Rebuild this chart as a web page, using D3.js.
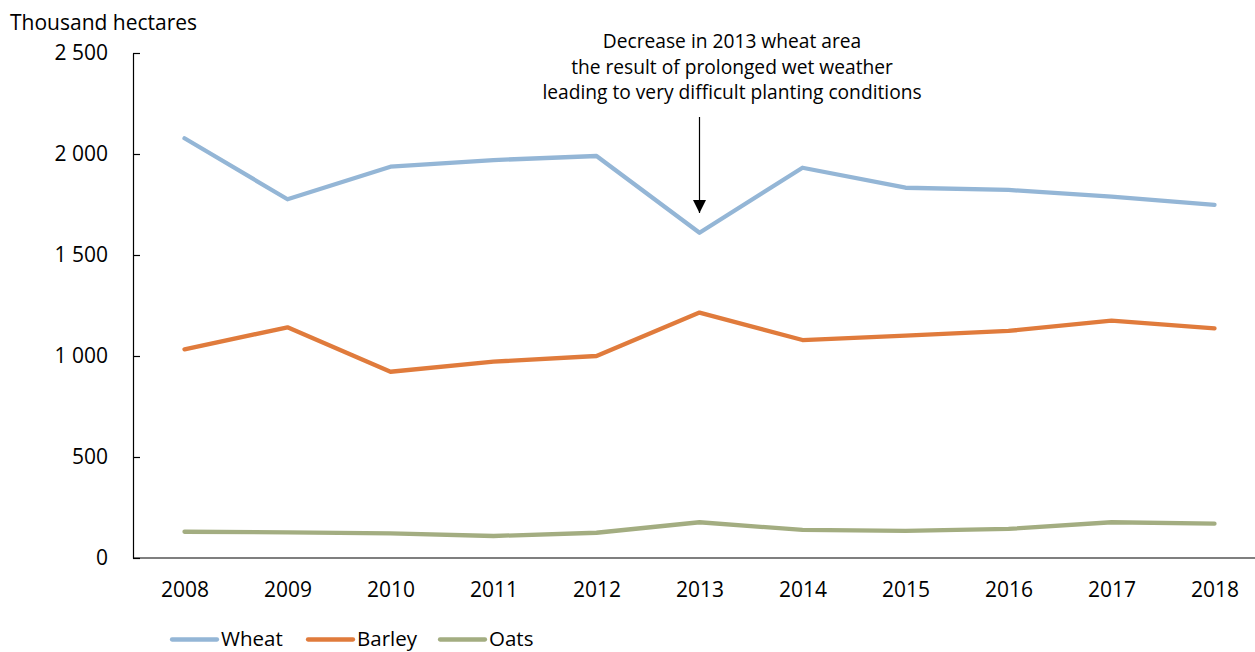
<!DOCTYPE html>
<html>
<head>
<meta charset="utf-8">
<script src="https://cdn.jsdelivr.net/npm/d3@7"></script>
<style>
  body { margin: 0; background: #fff; }
  text { font-family: 'Open Sans', sans-serif; fill: #000; }
</style>
</head>
<body>
<div class="chart"></div>
<script>
const svgWidth = 1255;
const svgHeight = 652;

const years = ['2008', '2009', '2010', '2011', '2012', '2013', '2014', '2015', '2016', '2017', '2018'];
const wheat = [2078, 1776, 1937, 1970, 1990, 1610, 1932, 1833, 1822, 1789, 1748];
const barley = [1033, 1142, 922, 972, 1000, 1215, 1079, 1101, 1124, 1175, 1137];
const oats = [130, 127, 122, 109, 125, 177, 139, 134, 144, 177, 170];
const yTicks = [0, 500, 1000, 1500, 2000, 2500];
const seriesNames = ['Wheat', 'Barley', 'Oats'];
const noteLines = [
  'Decrease in 2013 wheat area',
  'the result of prolonged wet weather',
  'leading to very difficult planting conditions'
];

const colors = {
  Wheat: '#94b6d6',
  Barley: '#e07b3c',
  Oats: '#a3ad81'
};

const fontSize = 21;

const svg = d3
  .select('.chart')
  .append('svg')
  .attr('width', svgWidth)
  .attr('height', svgHeight);

// plot area runs past the right edge of the picture, like the original crop
const xScale = d3.scalePoint()
  .domain(years)
  .range([133, 1266])
  .padding(0.5);

const yScale = d3.scaleLinear()
  .domain([0, 2500])
  .range([558, 53]);

const fmt = d3.formatLocale({ decimal: '.', thousands: ' ', grouping: [3], currency: ['', ''] }).format(',');

// y axis with ticks pointing into the plot
const yAxis = svg.append('g')
  .attr('transform', 'translate(133, 0)')
  .call(d3.axisLeft(yScale)
    .tickValues(yTicks)
    .tickFormat(fmt)
    .tickSizeInner(-7)
    .tickSizeOuter(0)
    .tickPadding(25));
yAxis.selectAll('text').attr('font-size', fontSize).attr('font-family', "'Open Sans', sans-serif");
yAxis.selectAll('line, path').attr('stroke', '#000').attr('stroke-width', 1.2);

const xAxis = svg.append('g')
  .attr('transform', `translate(0, ${yScale(0)})`)
  .call(d3.axisBottom(xScale).tickSize(0).tickPadding(24));
xAxis.select('.domain').attr('stroke', '#000').attr('stroke-width', 1.2)
  .attr('d', 'M133,0H1266');
xAxis.selectAll('text').attr('font-size', fontSize).attr('font-family', "'Open Sans', sans-serif");

svg.append('text')
  .attr('x', 10)
  .attr('y', 30)
  .attr('font-size', fontSize)
  .text('Thousand hectares');

// lines
const series = [
  { name: 'Wheat', values: wheat },
  { name: 'Barley', values: barley },
  { name: 'Oats', values: oats }
];

const line = d3.line()
  .x((d, i) => xScale(years[i]))
  .y(d => yScale(d));

svg.selectAll('.series')
  .data(series)
  .enter()
  .append('path')
  .attr('class', 'series')
  .attr('fill', 'none')
  .attr('stroke', d => colors[d.name])
  .attr('stroke-width', 4.3)
  .attr('stroke-linejoin', 'round')
  .attr('stroke-linecap', 'round')
  .attr('d', d => line(d.values));

// annotation
const noteX = 732;
svg.append('g')
  .selectAll('text')
  .data(noteLines)
  .enter()
  .append('text')
  .attr('x', noteX)
  .attr('y', (d, i) => 48 + i * 25.5)
  .attr('text-anchor', 'middle')
  .attr('font-size', 19.2)
  .text(d => d);

svg.append('defs')
  .append('marker')
  .attr('id', 'arrow')
  .attr('viewBox', '0 0 10 10')
  .attr('refX', 10)
  .attr('refY', 5)
  .attr('markerUnits', 'userSpaceOnUse')
  .attr('markerWidth', 13)
  .attr('markerHeight', 13)
  .attr('orient', 'auto')
  .append('path')
  .attr('d', 'M0,0L10,5L0,10Z')
  .attr('fill', '#000');

const arrowX = xScale('2013');
svg.append('line')
  .attr('x1', arrowX)
  .attr('x2', arrowX)
  .attr('y1', 117)
  .attr('y2', 213)
  .attr('stroke', '#000')
  .attr('stroke-width', 1.2)
  .attr('marker-end', 'url(#arrow)');

// legend
const legendX = [172, 308, 440];
const legend = svg.append('g')
  .selectAll('g')
  .data(seriesNames)
  .enter()
  .append('g')
  .attr('transform', (d, i) => `translate(${legendX[i]}, 639.5)`);
legend.append('line')
  .attr('x1', 0)
  .attr('x2', 45)
  .attr('stroke', d => colors[d])
  .attr('stroke-width', 4.3)
  .attr('stroke-linecap', 'round');
legend.append('text')
  .attr('x', 49)
  .attr('y', 6.5)
  .attr('font-size', 20.5)
  .text(d => d);
</script>
</body>
</html>
